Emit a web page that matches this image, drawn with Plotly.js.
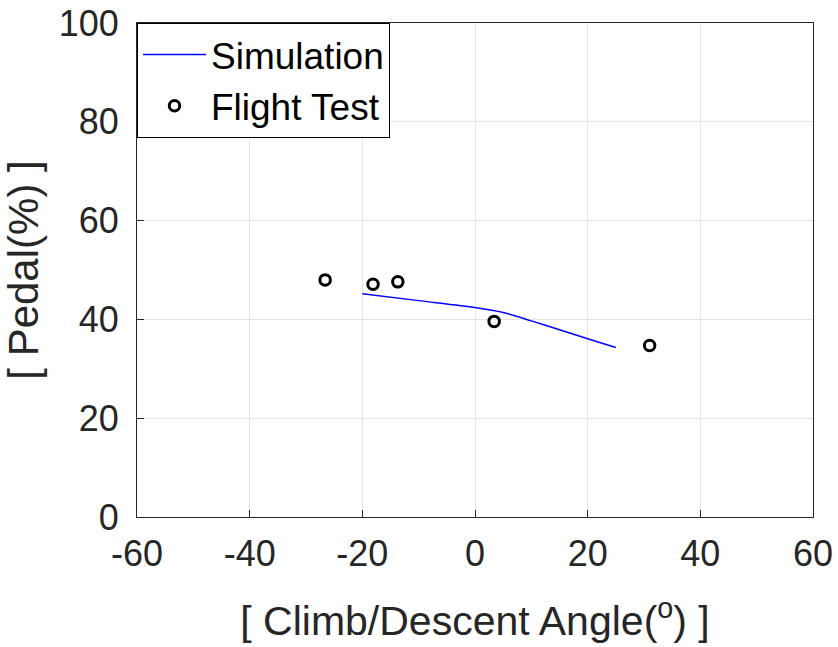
<!DOCTYPE html>
<html>
<head>
<meta charset="utf-8">
<script src="https://cdn.plot.ly/plotly-3.0.1.min.js"></script>
<style>html,body{margin:0;padding:0;background:#fff;}#chart{width:838px;height:647px;}</style>
</head>
<body>
<div id="chart"></div>
<script>
// Simulation curve
const simAngle = [-20, -10, 0, 5, 10, 15, 20, 25];
const simPedal = [45.2, 43.8, 42.4, 41.4, 39.7, 37.9, 36.1, 34.3];
// Flight test points
const testAngle = [-26.6, -18.1, -13.7, 3.4, 31.0];
const testPedal = [48.0, 47.1, 47.6, 39.6, 34.7];
// Axis ticks
const xTicks = [-60, -40, -20, 0, 20, 40, 60];
const yTicks = [0, 20, 40, 60, 80, 100];

const FONT = 'Liberation Sans, Arial, Helvetica, sans-serif';
const TXT = '#262626';

const traces = [
  {x: simAngle, y: simPedal, type: 'scatter', mode: 'lines', name: 'Simulation',
   line: {color: '#0000ff', width: 1.5, shape: 'spline', smoothing: 0.8}},
  {x: testAngle, y: testPedal, type: 'scatter', mode: 'markers', name: 'Flight Test',
   marker: {symbol: 'circle-open', size: 10.5, color: '#000000', line: {color: '#000000', width: 3}}}
];

const axisCommon = {
  showgrid: true, gridcolor: '#e3e3e3', gridwidth: 1,
  zeroline: false, showline: true, linecolor: TXT, linewidth: 1, mirror: true,
  ticks: 'inside', ticklen: 7, tickcolor: TXT, tickwidth: 1,
  ticklabeloverflow: 'allow',
  tickfont: {family: FONT, size: 36, color: TXT}
};

const layout = {
  width: 838, height: 647,
  margin: {l: 137, r: 25, t: 23, b: 130, pad: 0},
  paper_bgcolor: '#ffffff', plot_bgcolor: '#ffffff',
  showlegend: true,
  font: {family: FONT, color: TXT},
  xaxis: Object.assign({}, axisCommon, {
    range: [-60, 60], tickvals: xTicks, ticktext: xTicks.map(String),
    ticklabelstandoff: 5,
    title: {text: '[ Climb/Descent Angle(<sup>o</sup>) ]', font: {family: FONT, size: 41, color: TXT}, standoff: 33}
  }),
  yaxis: Object.assign({}, axisCommon, {
    range: [0, 100.001], tickvals: yTicks, ticktext: yTicks.map(String),
    ticklabelstandoff: 10,
    title: {text: '[ Pedal(%) ]', font: {family: FONT, size: 42, color: TXT}, standoff: 9}
  }),
  legend: {
    x: 0, y: 1, xanchor: 'left', yanchor: 'top',
    bgcolor: '#ffffff', bordercolor: '#000000', borderwidth: 1,
    font: {family: FONT, size: 37, color: '#000000'},
    tracegroupgap: 0, itemwidth: 63
  }
};

Plotly.newPlot('chart', traces, layout, {displayModeBar: false, staticPlot: true});
</script>
</body>
</html>
